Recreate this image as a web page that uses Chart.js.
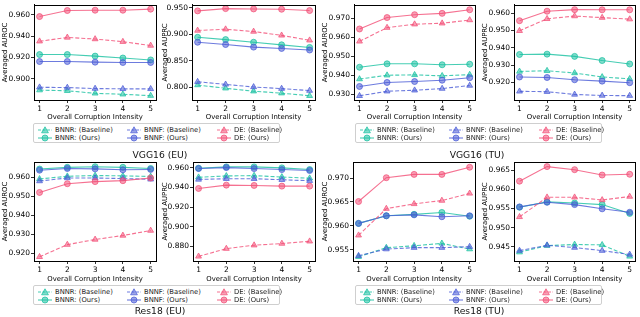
<!DOCTYPE html>
<html>
<head>
<meta charset="utf-8">
<script src="https://cdn.jsdelivr.net/npm/chart.js@4.4.1/dist/chart.umd.min.js"></script>
<style>
  body { margin: 0; width: 640px; height: 317px; background: #fff; position: relative; overflow: hidden; font-family: "DejaVu Sans", sans-serif; }
  canvas { position: absolute; }
  .legend { position: absolute; width: 247px; height: 20px; box-sizing: border-box; border: 1px solid #cfcfcf; border-radius: 2px; background: #fff; font-size: 6.8px; color: #222; }
  .item { position: absolute; height: 8px; display: flex; align-items: center; white-space: nowrap; }
  .item svg { margin-right: 2px; }
  .title { position: absolute; font-size: 9.2px; color: #111; transform: translate(-50%, -50%); white-space: nowrap; }
</style>
</head>
<body>
<script>
// x axis categories
const intensity = [1, 2, 3, 4, 5];

// VGG16 (EU) - AUROC
const vggEuRocTicks = [0.900, 0.920, 0.940, 0.960];
const vggEuRocBnnrBase = [0.8891, 0.8885, 0.8861, 0.8852, 0.8839];
const vggEuRocBnnrOurs = [0.9227, 0.9227, 0.9212, 0.9194, 0.9176];
const vggEuRocBnnfBase = [0.8918, 0.8915, 0.8906, 0.8903, 0.8903];
const vggEuRocBnnfOurs = [0.9161, 0.9161, 0.9155, 0.9152, 0.9152];
const vggEuRocDeBase   = [0.9352, 0.9388, 0.9373, 0.9348, 0.9312];
const vggEuRocDeOurs   = [0.9585, 0.9642, 0.9645, 0.9645, 0.9655];

// VGG16 (EU) - AUPRC
const vggEuPrcTicks = [0.800, 0.850, 0.900, 0.950];
const vggEuPrcBnnrBase = [0.8043, 0.7982, 0.7926, 0.7889, 0.7840];
const vggEuPrcBnnrOurs = [0.8945, 0.8902, 0.8852, 0.8803, 0.8754];
const vggEuPrcBnnfBase = [0.8105, 0.8055, 0.8006, 0.7975, 0.7938];
const vggEuPrcBnnfOurs = [0.8852, 0.8809, 0.8760, 0.8735, 0.8705];
const vggEuPrcDeBase   = [0.9074, 0.9098, 0.9055, 0.8982, 0.8889];
const vggEuPrcDeOurs   = [0.9445, 0.9488, 0.9482, 0.9476, 0.9451];

// VGG16 (TU) - AUROC
const vggTuRocTicks = [0.930, 0.940, 0.950, 0.960, 0.970];
const vggTuRocBnnrBase = [0.9380, 0.9400, 0.9402, 0.9397, 0.9403];
const vggTuRocBnnrOurs = [0.9442, 0.9460, 0.9460, 0.9455, 0.9458];
const vggTuRocBnnfBase = [0.9292, 0.9316, 0.9321, 0.9330, 0.9346];
const vggTuRocBnnfOurs = [0.9341, 0.9362, 0.9367, 0.9374, 0.9387];
const vggTuRocDeBase   = [0.9578, 0.9650, 0.9668, 0.9673, 0.9690];
const vggTuRocDeOurs   = [0.9643, 0.9703, 0.9718, 0.9725, 0.9744];

// VGG16 (TU) - AUPRC
const vggTuPrcTicks = [0.920, 0.930, 0.940, 0.950, 0.960];
const vggTuPrcBnnrBase = [0.9263, 0.9267, 0.9254, 0.9231, 0.9220];
const vggTuPrcBnnrOurs = [0.9361, 0.9363, 0.9350, 0.9326, 0.9306];
const vggTuPrcBnnfBase = [0.9148, 0.9146, 0.9130, 0.9124, 0.9123];
const vggTuPrcBnnfOurs = [0.9231, 0.9228, 0.9215, 0.9207, 0.9198];
const vggTuPrcDeBase   = [0.9498, 0.9567, 0.9583, 0.9574, 0.9565];
const vggTuPrcDeOurs   = [0.9556, 0.9611, 0.9620, 0.9619, 0.9619];

// Res18 (EU) - AUROC
const resEuRocTicks = [0.920, 0.930, 0.940, 0.950, 0.960];
const resEuRocBnnrBase = [0.9591, 0.9605, 0.9609, 0.9607, 0.9604];
const resEuRocBnnrOurs = [0.9643, 0.9652, 0.9655, 0.9652, 0.9646];
const resEuRocBnnfBase = [0.9580, 0.9596, 0.9596, 0.9593, 0.9589];
const resEuRocBnnfOurs = [0.9637, 0.9646, 0.9644, 0.9639, 0.9641];
const resEuRocDeBase   = [0.9182, 0.9246, 0.9273, 0.9294, 0.9320];
const resEuRocDeOurs   = [0.9520, 0.9566, 0.9577, 0.9582, 0.9596];

// Res18 (EU) - AUPRC
const resEuPrcTicks = [0.880, 0.900, 0.920, 0.940, 0.960];
const resEuPrcBnnrBase = [0.9504, 0.9518, 0.9521, 0.9507, 0.9494];
const resEuPrcBnnrOurs = [0.9597, 0.9610, 0.9610, 0.9600, 0.9583];
const resEuPrcBnnfBase = [0.9482, 0.9489, 0.9489, 0.9479, 0.9469];
const resEuPrcBnnfOurs = [0.9593, 0.9603, 0.9593, 0.9583, 0.9573];
const resEuPrcDeBase   = [0.8697, 0.8776, 0.8811, 0.8828, 0.8851];
const resEuPrcDeOurs   = [0.9390, 0.9424, 0.9421, 0.9414, 0.9414];

// Res18 (TU) - AUROC
const resTuRocTicks = [0.955, 0.960, 0.965, 0.970];
const resTuRocBnnrBase = [0.9535, 0.9554, 0.9558, 0.9563, 0.9551];
const resTuRocBnnrOurs = [0.9605, 0.9621, 0.9624, 0.9628, 0.9620];
const resTuRocBnnfBase = [0.9537, 0.9551, 0.9554, 0.9554, 0.9556];
const resTuRocBnnfOurs = [0.9605, 0.9621, 0.9623, 0.9619, 0.9621];
const resTuRocDeBase   = [0.9580, 0.9636, 0.9646, 0.9653, 0.9668];
const resTuRocDeOurs   = [0.9651, 0.9701, 0.9708, 0.9708, 0.9723];

// Res18 (TU) - AUPRC
const resTuPrcTicks = [0.945, 0.950, 0.955, 0.960, 0.965];
const resTuPrcBnnrBase = [0.9436, 0.9453, 0.9456, 0.9455, 0.9425];
const resTuPrcBnnrOurs = [0.9553, 0.9567, 0.9564, 0.9560, 0.9537];
const resTuPrcBnnfBase = [0.9440, 0.9454, 0.9448, 0.9440, 0.9430];
const resTuPrcBnnfOurs = [0.9554, 0.9566, 0.9560, 0.9549, 0.9540];
const resTuPrcDeBase   = [0.9528, 0.9579, 0.9579, 0.9572, 0.9581];
const resTuPrcDeOurs   = [0.9621, 0.9659, 0.9651, 0.9637, 0.9639];

const seriesNames = ['BNNR: (Baseline)', 'BNNR: (Ours)', 'BNNF: (Baseline)', 'BNNF: (Ours)', 'DE: (Baseline)', 'DE: (Ours)'];
const seriesRgb = ['24,192,160', '24,192,160', '72,90,214', '72,90,214', '242,78,118', '242,78,118'];

// panel layout: canvas origin (cx, cy), plot rect [l, t, r, b], x-title centre y
const panels = [
  { cx: 0,   cy: 0,   plot: [34, 1, 158, 100],   titleY: 117, yMin: 0.8798, yMax: 0.9696, ticks: vggEuRocTicks, label: 'Averaged AUROC',
    data: [vggEuRocBnnrBase, vggEuRocBnnrOurs, vggEuRocBnnfBase, vggEuRocBnnfOurs, vggEuRocDeBase, vggEuRocDeOurs] },
  { cx: 160, cy: 0,   plot: [192, 3, 317, 100],  titleY: 117, yMin: 0.776, yMax: 0.956, ticks: vggEuPrcTicks, label: 'Averaged AUPRC',
    data: [vggEuPrcBnnrBase, vggEuPrcBnnrOurs, vggEuPrcBnnfBase, vggEuPrcBnnfOurs, vggEuPrcDeBase, vggEuPrcDeOurs] },
  { cx: 320, cy: 0,   plot: [354, 1, 477, 100],  titleY: 117, yMin: 0.927, yMax: 0.977, ticks: vggTuRocTicks, label: 'Averaged AUROC',
    data: [vggTuRocBnnrBase, vggTuRocBnnrOurs, vggTuRocBnnfBase, vggTuRocBnnfOurs, vggTuRocDeBase, vggTuRocDeOurs] },
  { cx: 480, cy: 0,   plot: [514, 3, 637, 100],  titleY: 117, yMin: 0.9098, yMax: 0.9648, ticks: vggTuPrcTicks, label: 'Averaged AUPRC',
    data: [vggTuPrcBnnrBase, vggTuPrcBnnrOurs, vggTuPrcBnnfBase, vggTuPrcBnnfOurs, vggTuPrcDeBase, vggTuPrcDeOurs] },
  { cx: 0,   cy: 155, plot: [34, 162, 158, 261], titleY: 279, yMin: 0.916, yMax: 0.968, ticks: resEuRocTicks, label: 'Averaged AUROC',
    data: [resEuRocBnnrBase, resEuRocBnnrOurs, resEuRocBnnfBase, resEuRocBnnfOurs, resEuRocDeBase, resEuRocDeOurs] },
  { cx: 160, cy: 155, plot: [193, 162, 317, 261], titleY: 279, yMin: 0.865, yMax: 0.966, ticks: resEuPrcTicks, label: 'Averaged AUPRC',
    data: [resEuPrcBnnrBase, resEuPrcBnnrOurs, resEuPrcBnnfBase, resEuPrcBnnfOurs, resEuPrcDeBase, resEuPrcDeOurs] },
  { cx: 320, cy: 155, plot: [353, 162, 477, 261], titleY: 279, yMin: 0.9526, yMax: 0.9734, ticks: resTuRocTicks, label: 'Averaged AUROC',
    data: [resTuRocBnnrBase, resTuRocBnnrOurs, resTuRocBnnfBase, resTuRocBnnfOurs, resTuRocDeBase, resTuRocDeOurs] },
  { cx: 480, cy: 155, plot: [514, 162, 637, 261], titleY: 279, yMin: 0.9413, yMax: 0.9671, ticks: resTuPrcTicks, label: 'Averaged AUPRC',
    data: [resTuPrcBnnrBase, resTuPrcBnnrOurs, resTuPrcBnnfBase, resTuPrcBnnfOurs, resTuPrcDeBase, resTuPrcDeOurs] }
];

// black box round the plot area, like matplotlib
const framePlugin = {
  id: 'frame',
  afterDraw(chart) {
    const { ctx, chartArea: a } = chart;
    ctx.save();
    ctx.strokeStyle = '#000';
    ctx.lineWidth = 1;
    ctx.strokeRect(Math.round(a.left) + 0.5, Math.round(a.top) + 0.5, Math.round(a.right - a.left), Math.round(a.bottom - a.top));
    ctx.restore();
  }
};

function makePanel(p) {
  const [l, t, r, b] = p.plot;
  const xH = p.titleY - b + 4;
  const canvas = document.createElement('canvas');
  canvas.width = r + 3 - p.cx;
  canvas.height = b + xH - p.cy;
  canvas.style.left = p.cx + 'px';
  canvas.style.top = p.cy + 'px';
  document.body.appendChild(canvas);

  const datasets = p.data.map((vals, i) => {
    const base = i % 2 === 0;
    return {
      label: seriesNames[i],
      data: intensity.map((x, j) => ({ x: x, y: vals[j] })),
      borderColor: `rgba(${seriesRgb[i]},0.8)`,
      backgroundColor: `rgba(${seriesRgb[i]},0.55)`,
      pointBorderColor: `rgba(${seriesRgb[i]},0.9)`,
      borderWidth: 1.1,
      borderDash: base ? [4, 2] : [],
      pointStyle: base ? 'triangle' : 'circle',
      pointRadius: base ? 3.4 : 3,
      pointBorderWidth: 0.8,
      tension: 0
    };
  }).reverse(); // last series drawn on top

  new Chart(canvas, {
    type: 'line',
    data: { datasets },
    plugins: [framePlugin],
    options: {
      responsive: false,
      animation: false,
      devicePixelRatio: 1,
      layout: { padding: { top: t - p.cy, right: 3, left: 0, bottom: 0 } },
      plugins: { legend: { display: false }, tooltip: { enabled: false } },
      scales: {
        x: {
          type: 'linear', min: 0.8, max: 5.2,
          afterBuildTicks: s => { s.ticks = intensity.map(v => ({ value: v })); },
          afterFit: s => { s.height = xH; s.paddingLeft = 0; s.paddingRight = 0; },
          grid: { drawOnChartArea: false, tickLength: 3, color: '#000', lineWidth: 0.8 },
          border: { color: '#000', width: 1 },
          ticks: { color: '#000', font: { family: 'DejaVu Sans', size: 7.5 }, padding: 1.5, maxRotation: 0, autoSkip: false },
          title: { display: true, text: 'Overall Corruption Intensity', color: '#000', font: { family: 'DejaVu Sans', size: 6.9 }, padding: 0 }
        },
        y: {
          min: p.yMin, max: p.yMax,
          afterBuildTicks: s => { s.ticks = p.ticks.map(v => ({ value: v })); },
          afterFit: s => { s.width = l - p.cx; s.paddingTop = 0; s.paddingBottom = 0; },
          grid: { drawOnChartArea: false, tickLength: 3, color: '#000', lineWidth: 0.8 },
          border: { color: '#000', width: 1 },
          ticks: { color: '#000', font: { family: 'DejaVu Sans', size: 7.5 }, padding: 1, callback: v => v.toFixed(3) },
          title: { display: true, text: p.label, color: '#000', font: { family: 'DejaVu Sans', size: 6.9 }, padding: { top: 1, bottom: 0 } }
        }
      }
    }
  });
}

panels.forEach(makePanel);

// legend marker as small svg
function markerSvg(i) {
  const base = i % 2 === 0;
  const c = seriesRgb[i];
  const shape = base
    ? `<polygon points="7,0.8 10.4,6.8 3.6,6.8" fill="rgba(${c},0.55)" stroke="rgba(${c},0.9)" stroke-width="0.8"/>`
    : `<circle cx="7" cy="4" r="3" fill="rgba(${c},0.55)" stroke="rgba(${c},0.9)" stroke-width="0.8"/>`;
  const dash = base ? 'stroke-dasharray="3,1.5"' : '';
  return `<svg width="15" height="8"><line x1="0" y1="4" x2="14" y2="4" stroke="rgba(${c},0.8)" stroke-width="1.1" ${dash}/>${shape}</svg>`;
}

function makeLegend(left, top) {
  const box = document.createElement('div');
  box.className = 'legend';
  box.style.left = left + 'px';
  box.style.top = top + 'px';
  const colX = [4, 93, 183];
  const rowY = [1.5, 9.8];
  seriesNames.forEach((name, i) => {
    const it = document.createElement('div');
    it.className = 'item';
    it.style.left = colX[Math.floor(i / 2)] + 'px';
    it.style.top = rowY[i % 2] + 'px';
    it.innerHTML = markerSvg(i) + '<span>' + name + '</span>';
    box.appendChild(it);
  });
  document.body.appendChild(box);
}

function makeTitle(text, x, y) {
  const d = document.createElement('div');
  d.className = 'title';
  d.style.left = x + 'px';
  d.style.top = y + 'px';
  d.textContent = text;
  document.body.appendChild(d);
}

makeLegend(33, 123);
makeLegend(355, 123);
makeLegend(33, 285);
makeLegend(355, 285);

makeTitle('VGG16 (EU)', 160, 154);
makeTitle('VGG16 (TU)', 477, 154);
makeTitle('Res18 (EU)', 160, 310);
makeTitle('Res18 (TU)', 479, 310);
</script>
</body>
</html>
